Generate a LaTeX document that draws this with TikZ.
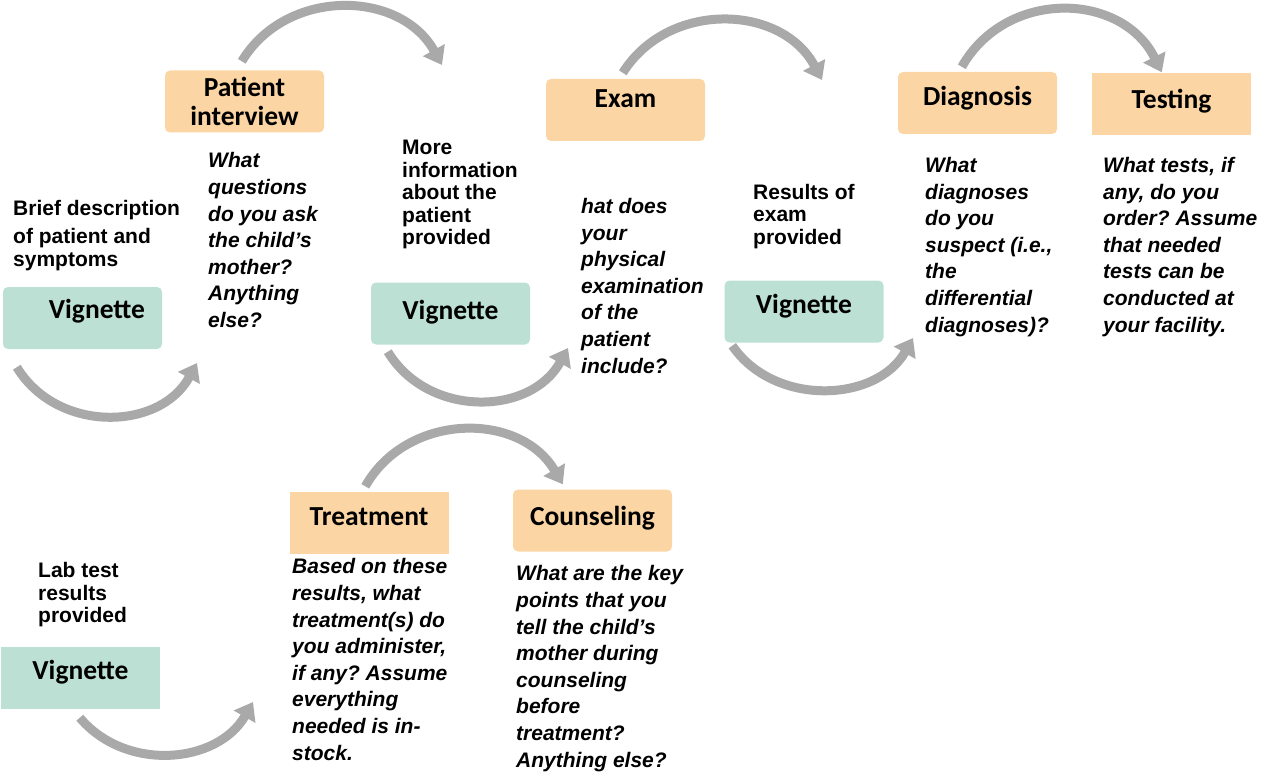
\documentclass[tikz,border=0pt]{standalone}
\usepackage{fontspec}
\setmainfont{Liberation Sans}
\newfontfamily\calib{Carlito}
\usetikzlibrary{arrows.meta}
\definecolor{peach}{HTML}{FCD5A5}
\definecolor{mint}{HTML}{BCE0D4}
\definecolor{arcgray}{HTML}{A9A9A9}
\frenchspacing

\begin{document}
\begin{tikzpicture}[x=1pt,y=-1pt,
  box/.style={minimum width=159pt,minimum height=62pt,inner sep=0pt,align=center,
    font=\calib\bfseries\fontsize{27.5}{29}\selectfont},
  lift/.style={text height=17.7pt,text depth=#1},
  lift/.default=11pt,
  stage/.style={box,fill=peach,rounded corners=5pt},
  vig/.style={box,fill=mint,rounded corners=5pt},
  cue/.style={anchor=base west,inner sep=0pt,align=left,font=\bfseries\fontsize{21}{22.5}\selectfont},
  ask/.style={anchor=base west,inner sep=0pt,align=left,font=\bfseries\itshape\fontsize{21}{26.6}\selectfont},
  flow/.style={draw=arcgray,line width=9pt,-{Triangle[length=17pt,width=24pt]}}]
\useasboundingbox (0,0) rectangle (1262,773);
% kroky: vinety (zelene) a ukoly (oranzove)
\node[vig,lift=16pt,text width=125pt,align=right,inner xsep=17pt] (vig1) at (82.5,318) {Vignette};
\node[stage] (pint) at (244.5,101.5) {Patient\\interview};
\node[vig,lift=6pt] (vig2) at (450.5,313.5) {Vignette};
\node[stage,lift=22pt] (exam) at (625.5,110) {Exam};
\node[vig,lift=13pt] (vig3) at (804,311.5) {Vignette};
\node[stage,lift=12pt] (diag) at (977.5,103) {Diagnosis};
\node[stage,sharp corners,lift=10pt] (test) at (1171.5,104.5) {Testing};
\node[stage,sharp corners,lift] (treat) at (369,522.5) {Treatment};
\node[stage,lift=7pt] (couns) at (592.5,520.5) {Counseling};
\node[vig,sharp corners,lift=13pt] (vig4) at (80.5,677.5) {Vignette};
% popisky a otazky (kotva = uctari posledniho radku)
\node[cue] (brief) at (13,266) {Brief description\\[5.5pt]of patient and\\symptoms};
\node[ask] (q1) at (208,327.5) {What\\questions\\do you ask\\the child’s\\mother?\\Anything\\else?};
\node[cue] (more) at (402,244.5) {More\\information\\about the\\patient\\provided};
\node[ask] (q2) at (581,373) {hat does\\your\\physical\\examination\\of the\\patient\\include?};
\node[cue] (res) at (753,244) {Results of\\exam\\provided};
\node[ask] (q3) at (925,332) {What\\diagnoses\\do you\\suspect (i.e.,\\the\\differential\\diagnoses)?};
\node[ask] (q4) at (1103,332) {What tests, if\\any, do you\\order? Assume\\that needed\\tests can be\\conducted at\\your facility.};
\node[cue] (lab) at (38,622.5) {Lab test\\results\\provided};
\node[ask] (q5) at (292,760) {Based on these\\results, what\\treatment(s) do\\you administer,\\if any? Assume\\everything\\needed is in-\\stock.};
\node[ask] (q6) at (516,767) {What are the key\\points that you\\tell the child’s\\mother during\\counseling\\before\\treatment?\\Anything else?};
% oblouky mezi kroky
\draw[flow] ([shift={(14,18)}]vig1.south west) to[bend right=60,looseness=1.1] ([shift={(-11,35.5)}]q1.base west);
\draw[flow] ([shift={(77,-9)}]pint.north west) to[bend left=60,looseness=1.1] ([shift={(40,-179.5)}]more.base west);
\draw[flow] ([shift={(17,7)}]vig2.south west) to[bend right=60,looseness=1.1] ([shift={(-13,-25)}]q2.base west);
\draw[flow] ([shift={(77,-6)}]exam.north west) to[bend left=60,looseness=1.1] ([shift={(69,-164)}]res.base west);
\draw[flow] ([shift={(8,3)}]vig3.south west) to[bend right=58,looseness=1.05] ([shift={(-12,6)}]q3.base west);
\draw[flow] ([shift={(64,-5)}]diag.north west) to[bend left=62,looseness=1.15] ([shift={(70,-1)}]test.north west);
\draw[flow] ([shift={(76,-5)}]treat.north west) to[bend left=60,looseness=1.1] ([shift={(50,-5)}]couns.north west);
\draw[flow] ([shift={(79,9)}]vig4.south west) to[bend right=55,looseness=1.05] ([shift={(-39,-58)}]q5.base west);
\end{tikzpicture}
\end{document}
